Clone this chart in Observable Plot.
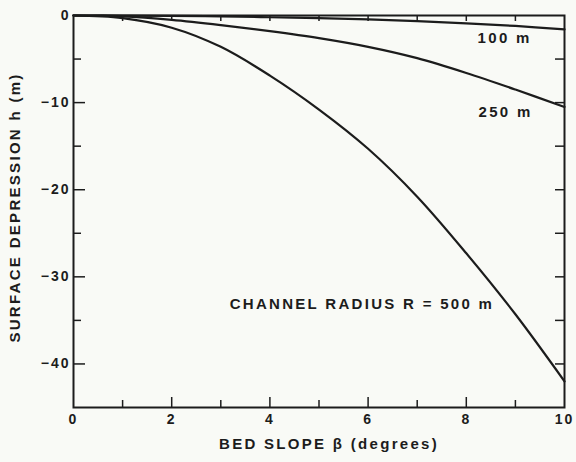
<!DOCTYPE html>
<html><head><meta charset="utf-8">
<script src="https://cdn.jsdelivr.net/npm/d3@7"></script>
<script src="https://cdn.jsdelivr.net/npm/@observablehq/plot@0.6"></script>
<style>
html,body{margin:0;padding:0;background:#f9faf6;}
</style></head><body><div id="chart"></div>
<script>
// Bed slope beta (degrees)
const beta = [0, 1, 2, 3, 4, 5, 6, 7, 8, 9, 10];
// Surface depression h (m) for each channel radius
const h100 = [0, 0, -0.05, -0.1, -0.2, -0.3, -0.45, -0.65, -0.9, -1.2, -1.6];
const h250 = [0, -0.1, -0.5, -1.1, -1.8, -2.6, -3.6, -4.9, -6.6, -8.5, -10.5];
const h500 = [0, -0.3, -1.4, -3.6, -6.9, -10.8, -15.3, -20.8, -27.3, -34.3, -42.0];
const radii = ["100 m", "250 m", "500 m"];
const series = [h100, h250, h500];
const xLabelTicks = [0, 2, 4, 6, 8, 10];
const xMajor = [2, 4, 6, 8];
const xMinor = [1, 3, 5, 7, 9];
const xTop = [1, 2, 3, 4, 5, 6, 7, 8, 9];
const yLabelTicks = [0, -10, -20, -30, -40];
const yMajor = [-10, -20, -30, -40];
const yMinor = [-5, -15, -25, -35];
const yRight = [-5, -10, -15, -20, -25, -30, -35, -40];
const labels = [
  {text: "100 m", x: 8.23, y: -2.64},
  {text: "250 m", x: 8.25, y: -11.1},
  {text: "CHANNEL RADIUS R = 500 m", x: 3.18, y: -33.1}
];

const rows = series.flatMap((s, i) => s.map((h, j) => ({R: radii[i], beta: beta[j], h})));

const W = 576, H = 462, mL = 73, mR = 12, mT = 15, mB = 55;
const pw = W - mL - mR, ph = H - mT - mB;
const ink = "#1c1c1c";
const font = "'Liberation Sans', Arial, Helvetica, sans-serif";

const chart = Plot.plot({
  width: W, height: H,
  marginLeft: mL, marginRight: mR, marginTop: mT, marginBottom: mB,
  style: {background: "#f9faf6", fontFamily: font, color: ink},
  x: {domain: [0, 10]},
  y: {domain: [-45, 0]},
  marks: [
    Plot.axisX({ticks: xLabelTicks, tickSize: 0, tickPadding: 7, label: null, fontSize: 14, fontWeight: "bold", tickFormat: d => String(d)}),
    Plot.axisY({ticks: yLabelTicks, tickSize: 0, tickPadding: 3, label: null, fontSize: 14, fontWeight: "bold", tickFormat: d => d === 0 ? "0" : "\u2212" + Math.abs(d)}),
    Plot.tickX(xMajor, {x: d => d, insetTop: ph - 10, stroke: ink, strokeWidth: 1.5}),
    Plot.tickX(xMinor, {x: d => d, insetTop: ph - 7, stroke: ink, strokeWidth: 1.5}),
    Plot.tickX(xTop, {x: d => d, insetBottom: ph - 6, stroke: ink, strokeWidth: 1.5}),
    Plot.tickY(yMajor, {y: d => d, insetRight: pw - 12, stroke: ink, strokeWidth: 1.5}),
    Plot.tickY(yMinor, {y: d => d, insetRight: pw - 8, stroke: ink, strokeWidth: 1.5}),
    Plot.tickY(yRight, {y: d => d, insetLeft: pw - 9, stroke: ink, strokeWidth: 1.5}),
    Plot.frame({stroke: ink, strokeWidth: 2}),
    Plot.line(rows, {x: "beta", y: "h", z: "R", curve: "catmull-rom", stroke: ink, strokeWidth: 2.2}),
    Plot.text(labels, {x: "x", y: "y", text: "text", textAnchor: "start", fontSize: 15, fontWeight: "bold", fill: ink}),
    Plot.text(["BED SLOPE \u03b2 (degrees)"], {frameAnchor: "bottom", textAnchor: "middle", dx: 10, dy: 41, fontSize: 15, fontWeight: "bold", fill: ink}),
    Plot.text(["SURFACE DEPRESSION h (m)"], {frameAnchor: "left", textAnchor: "middle", lineAnchor: "middle", dx: -58, dy: -4, rotate: -90, fontSize: 15, fontWeight: "bold", fill: ink})
  ]
});
d3.select(chart).selectAll("text").attr("letter-spacing", "2.3px");
d3.select(chart).selectAll("g[aria-label='x-axis tick label'] text, g[aria-label='y-axis tick label'] text").attr("letter-spacing", "2px");
document.getElementById("chart").appendChild(chart);
</script></body></html>
